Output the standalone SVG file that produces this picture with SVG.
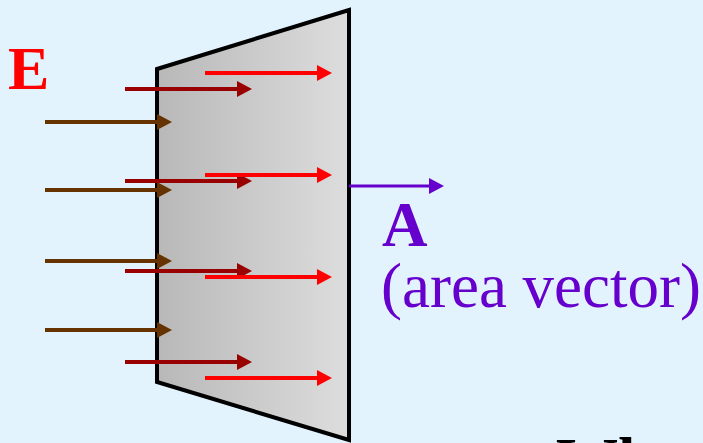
<svg xmlns="http://www.w3.org/2000/svg" width="703" height="443" viewBox="0 0 703 443">
  <style>
    .ln { stroke-width: 4; fill: none; }
    .brown { stroke: #663300; marker-end: url(#hBrown); }
    .dred { stroke: #990000; marker-end: url(#hDred); }
    .red { stroke: #FF0000; marker-end: url(#hRed); }
    .purple { stroke: #6600CC; stroke-width: 3; marker-end: url(#hPurple); }
    .serif { font-family: "Liberation Serif", "Times New Roman", serif; }
  </style>
  <defs>
    <linearGradient id="plate" x1="0" y1="0" x2="1" y2="0">
      <stop offset="0" stop-color="#B8B8B8"/>
      <stop offset="1" stop-color="#DDDDDD"/>
    </linearGradient>
    <marker id="hBrown" markerUnits="userSpaceOnUse" viewBox="0 0 15 16" markerWidth="15" markerHeight="16" refX="1" refY="8" orient="auto"><path d="M0,0 L15,8 L0,16 z" fill="#663300"/></marker>
    <marker id="hDred" markerUnits="userSpaceOnUse" viewBox="0 0 15 16" markerWidth="15" markerHeight="16" refX="1" refY="8" orient="auto"><path d="M0,0 L15,8 L0,16 z" fill="#990000"/></marker>
    <marker id="hRed" markerUnits="userSpaceOnUse" viewBox="0 0 15 16" markerWidth="15" markerHeight="16" refX="1" refY="8" orient="auto"><path d="M0,0 L15,8 L0,16 z" fill="#FF0000"/></marker>
    <marker id="hPurple" markerUnits="userSpaceOnUse" viewBox="0 0 15 16" markerWidth="15" markerHeight="16" refX="1" refY="8" orient="auto"><path d="M0,0 L15,8 L0,16 z" fill="#6600CC"/></marker>
  </defs>
  <rect x="0" y="0" width="703" height="443" fill="#E3F3FD"/>
  <g id="surface">
    <polygon points="157,69 349,10 349,440 157,382" fill="url(#plate)" stroke="#000000" stroke-width="4" stroke-linejoin="miter"/>
  </g>
  <g id="connectors">
    <line class="ln brown" x1="45" y1="122" x2="158" y2="122"/>
    <line class="ln brown" x1="45" y1="190" x2="158" y2="190"/>
    <line class="ln brown" x1="45" y1="261" x2="158" y2="261"/>
    <line class="ln brown" x1="45" y1="330" x2="158" y2="330"/>
    <line class="ln dred" x1="125" y1="89" x2="238" y2="89"/>
    <line class="ln dred" x1="125" y1="181" x2="238" y2="181"/>
    <line class="ln dred" x1="125" y1="271" x2="238" y2="271"/>
    <line class="ln dred" x1="125" y1="362" x2="238" y2="362"/>
    <line class="ln red" x1="205" y1="73" x2="318" y2="73"/>
    <line class="ln red" x1="205" y1="175" x2="318" y2="175"/>
    <line class="ln red" x1="205" y1="277" x2="318" y2="277"/>
    <line class="ln red" x1="205" y1="378" x2="318" y2="378"/>
    <line class="ln purple" x1="349" y1="186" x2="430" y2="186"/>
  </g>
  <g id="label-E">
    <text class="serif" x="8" y="89" font-size="62" font-weight="bold" fill="#FF0000">E</text>
  </g>
  <g id="label-A">
    <text class="serif" x="382" y="246" font-size="63" font-weight="bold" fill="#6600CC">A</text>
    <text class="serif" x="381" y="307" font-size="63" fill="#6600CC">(area vector)</text>
  </g>
  <g id="label-bottom">
    <text class="serif" x="556" y="480" font-size="62" font-weight="bold" fill="#000000">Wh</text>
  </g>
</svg>
